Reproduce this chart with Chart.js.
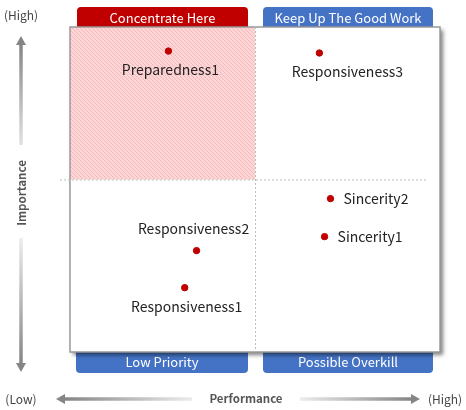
<!DOCTYPE html>
<html>
<head>
<meta charset="utf-8">
<script src="https://cdn.jsdelivr.net/npm/chart.js@4"></script>
<style>
  body { margin: 0; background: #fff; }
  #wrap { width: 466px; height: 410px; }
</style>
</head>
<body>
<div id="wrap"><canvas id="matrix" width="466" height="410"></canvas></div>
<script>
// --- Data ---
const itemNames = ['Preparedness1', 'Responsiveness3', 'Sincerity2', 'Sincerity1', 'Responsiveness2', 'Responsiveness1'];
const performance = [26.6, 67.4, 70.4, 68.8, 34.2, 31.0];
const importance = [92.6, 92.0, 47.2, 35.5, 31.2, 19.8];
const quadrantNames = ['Concentrate Here', 'Keep Up The Good Work', 'Low Priority', 'Possible Overkill'];
const splitX = 50;
const splitY = 53.1;

// where each label sits relative to its dot
const labelSide = {
    Preparedness1: 'below',
    Responsiveness3: 'below',
    Sincerity2: 'right',
    Sincerity1: 'right',
    Responsiveness2: 'above',
    Responsiveness1: 'below'
};

const FONT = '"Noto Sans CJK KR", "Liberation Sans", sans-serif';
const RED = '#c00000';
const BLUE = '#4472c4';

const makeHatch = (ctx) => {
    const c = document.createElement('canvas');
    c.width = 4; c.height = 4;
    const p = c.getContext('2d');
    p.fillStyle = '#fcd6d6';
    p.fillRect(0, 0, 4, 4);
    p.strokeStyle = '#f4b0b0';
    p.lineWidth = 0.8;
    p.beginPath();
    p.moveTo(0, 0); p.lineTo(4, 4);
    p.moveTo(-1, 3); p.lineTo(1, 5);
    p.moveTo(3, -1); p.lineTo(5, 1);
    p.stroke();
    return ctx.createPattern(c, 'repeat');
};

const roundTab = (ctx, x, y, w, h, r, top, color, text) => {
    ctx.save();
    ctx.fillStyle = color;
    ctx.beginPath();
    ctx.roundRect(x, y, w, h, top ? [r, r, 0, 0] : [0, 0, r, r]);
    ctx.fill();
    ctx.fillStyle = '#fff';
    ctx.font = '13px ' + FONT;
    ctx.textAlign = 'center';
    ctx.textBaseline = 'middle';
    ctx.fillText(text, x + w / 2, y + h / 2 + 0.5);
    ctx.restore();
};

const arrowHead = (ctx, x, y, dir, color) => {
    ctx.save();
    ctx.fillStyle = color;
    ctx.translate(x, y);
    ctx.rotate(dir);
    ctx.beginPath();
    ctx.moveTo(0, 0);
    ctx.lineTo(-9, -5);
    ctx.lineTo(-9, 5);
    ctx.closePath();
    ctx.fill();
    ctx.restore();
};

const gradLine = (ctx, x1, y1, x2, y2, c1, c2) => {
    const g = ctx.createLinearGradient(x1, y1, x2, y2);
    g.addColorStop(0, c1);
    g.addColorStop(1, c2);
    ctx.save();
    ctx.strokeStyle = g;
    ctx.lineWidth = 3.5;
    ctx.beginPath();
    ctx.moveTo(x1, y1);
    ctx.lineTo(x2, y2);
    ctx.stroke();
    ctx.restore();
};

const backdrop = {
    id: 'backdrop',
    beforeDraw(chart) {
        const { ctx, chartArea: a, scales } = chart;
        const mx = scales.x.getPixelForValue(splitX);
        const my = scales.y.getPixelForValue(splitY);

        // tabs behind the frame
        roundTab(ctx, a.left + 7, a.top - 20, mx - a.left - 14, 22, 4, true, RED, quadrantNames[0]);
        roundTab(ctx, mx + 8, a.top - 20, a.right - mx - 15, 22, 4, true, BLUE, quadrantNames[1]);
        roundTab(ctx, a.left + 6, a.bottom - 1, mx - a.left - 13, 22, 4, false, BLUE, quadrantNames[2]);
        roundTab(ctx, mx + 8, a.bottom - 1, a.right - mx - 15, 22, 4, false, BLUE, quadrantNames[3]);

        // frame with shadow
        ctx.save();
        ctx.shadowColor = 'rgba(0,0,0,0.5)';
        ctx.shadowOffsetX = 3;
        ctx.shadowOffsetY = 3;
        ctx.shadowBlur = 4;
        ctx.fillStyle = '#fff';
        ctx.fillRect(a.left, a.top, a.width, a.height);
        ctx.restore();

        // hatched quadrant
        ctx.fillStyle = makeHatch(ctx);
        ctx.fillRect(a.left, a.top, mx - a.left, my - a.top);

        ctx.save();
        ctx.strokeStyle = '#999';
        ctx.lineWidth = 1.5;
        ctx.strokeRect(a.left, a.top, a.width, a.height);
        ctx.restore();

        // split lines
        ctx.save();
        ctx.strokeStyle = '#bbb';
        ctx.lineWidth = 1;
        ctx.setLineDash([2, 2]);
        ctx.beginPath();
        ctx.moveTo(mx + 0.5, a.top);
        ctx.lineTo(mx + 0.5, a.bottom);
        ctx.moveTo(a.left - 10, my + 0.5);
        ctx.lineTo(a.right - 12, my + 0.5);
        ctx.stroke();
        ctx.restore();

        // axis arrows
        const ax = 21;
        gradLine(ctx, ax, 44, ax, 145, '#858585', '#e2e2e2');
        gradLine(ctx, ax, 238, ax, 364, '#ececec', '#858585');
        arrowHead(ctx, ax, 36, -Math.PI / 2, '#858585');
        arrowHead(ctx, ax, 372, Math.PI / 2, '#858585');

        const ay = 399;
        gradLine(ctx, 64, ay, 192, ay, '#858585', '#ececec');
        gradLine(ctx, 300, ay, 412, ay, '#ececec', '#858585');
        arrowHead(ctx, 56, ay, Math.PI, '#858585');
        arrowHead(ctx, 420, ay, 0, '#858585');

        ctx.save();
        ctx.fillStyle = '#444';
        ctx.textBaseline = 'middle';
        ctx.textAlign = 'center';
        ctx.font = '12px ' + FONT;
        ctx.fillText('(High)', 21, 15);
        ctx.fillText('(Low)', 21, 399);
        ctx.fillText('(High)', 445, 399);
        ctx.font = 'bold 11.5px ' + FONT;
        ctx.fillStyle = '#555';
        ctx.fillText('Performance', 246, 399);
        ctx.translate(22, 193);
        ctx.rotate(-Math.PI / 2);
        ctx.fillText('Importance', 0, 0);
        ctx.restore();
    },
    afterDatasetsDraw(chart) {
        const { ctx } = chart;
        const meta = chart.getDatasetMeta(0);
        ctx.save();
        ctx.fillStyle = '#222';
        ctx.font = '14px ' + FONT;
        ctx.textBaseline = 'middle';
        meta.data.forEach((pt, i) => {
            const name = itemNames[i];
            const side = labelSide[name];
            if (side === 'right') {
                ctx.textAlign = 'left';
                ctx.fillText(name, pt.x + 13, pt.y);
            } else if (side === 'above') {
                ctx.textAlign = 'center';
                ctx.fillText(name, pt.x - 3, pt.y - 22);
            } else {
                ctx.textAlign = 'center';
                ctx.fillText(name, pt.x + (name === 'Responsiveness3' ? 28 : 2), pt.y + 19);
            }
        });
        ctx.restore();
    }
};

new Chart(document.getElementById('matrix'), {
    type: 'scatter',
    data: {
        datasets: [{
            data: performance.map((v, i) => ({ x: v, y: importance[i] })),
            backgroundColor: RED,
            borderColor: RED,
            pointRadius: 3.2,
            pointHoverRadius: 3.2
        }]
    },
    options: {
        responsive: false,
        animation: false,
        layout: { padding: { left: 70, right: 26, top: 27, bottom: 58 } },
        scales: {
            x: { display: false, min: 0, max: 100 },
            y: { display: false, min: 0, max: 100 }
        },
        plugins: {
            legend: { display: false },
            tooltip: { enabled: false }
        }
    },
    plugins: [backdrop]
});
</script>
</body>
</html>
